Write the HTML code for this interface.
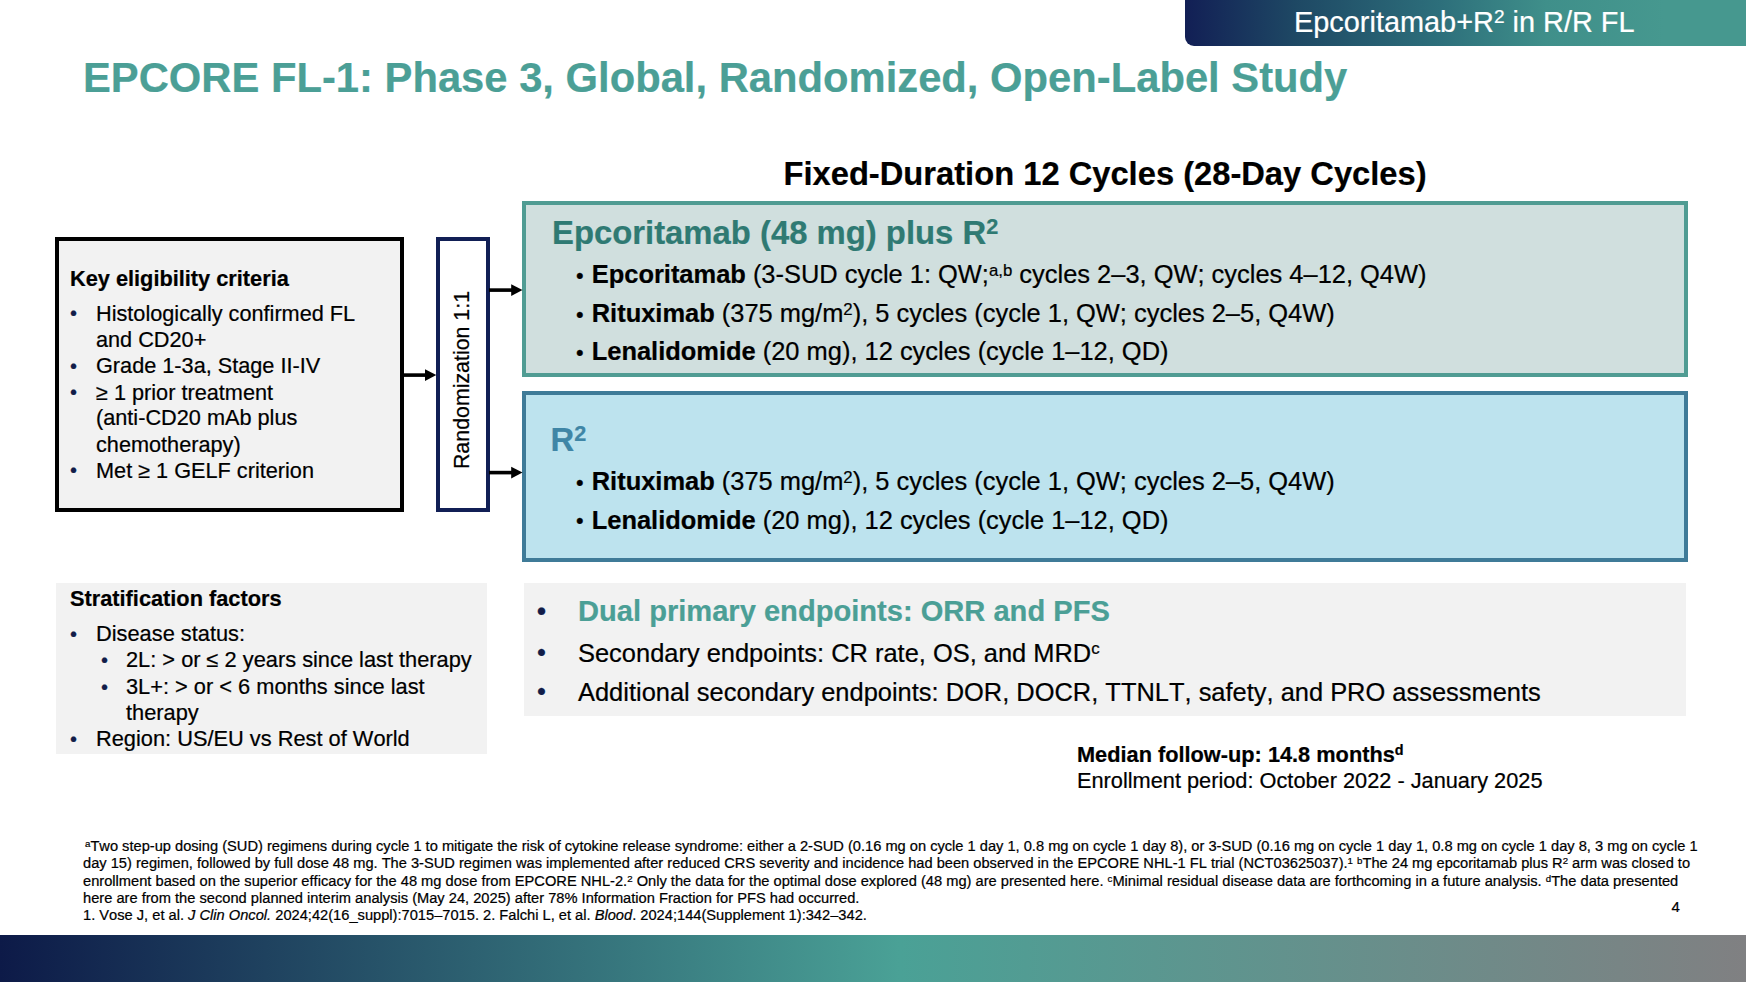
<!DOCTYPE html>
<html><head><meta charset="utf-8">
<style>
*{margin:0;padding:0;box-sizing:border-box;}
html,body{width:1746px;height:982px;overflow:hidden;background:#fff;}
body{font-family:"Liberation Sans",sans-serif;color:#000;position:relative;font-kerning:none;}
.abs{position:absolute;}
.t{position:absolute;white-space:nowrap;line-height:1;-webkit-text-stroke:0.22px currentColor;}
sup{font-size:66%;vertical-align:baseline;position:relative;top:-0.47em;line-height:0;}
.bl{font-size:85%;position:relative;top:-0.04em;margin-right:0.05em;}
#tab{left:1185px;top:0;width:570px;height:46.4px;border-radius:0 0 9px 9px;background:linear-gradient(90deg,#121f55 0%,#1e4864 19.3%,#2d6f7b 44.7%,#3f8f8a 63.3%,#46988f 84%,#46988f 100%);}
#elig{left:55px;top:237px;width:349px;height:275px;border:4px solid #000;background:#f2f2f2;}
#rand{left:436px;top:237px;width:54px;height:275px;border:4px solid #111f55;background:#fff;}
#arm1{left:522px;top:201px;width:1166px;height:176px;border:4px solid #509c93;background:#d0dfde;}
#arm2{left:522px;top:391px;width:1166px;height:171px;border:4px solid #3f7b98;background:#bde3ee;}
#strat{left:56px;top:583px;width:431px;height:171px;background:#f2f2f2;}
#endp{left:524px;top:583px;width:1162px;height:133px;background:#f2f2f2;}
#foot{left:0;top:935px;width:1746px;height:47px;background:linear-gradient(90deg,#0d1a48 0%,#4aa196 51.5%,#808082 100%);}
#randtxt{position:absolute;left:463px;top:380.4px;width:0;height:0;}
#randtxt span{position:absolute;white-space:nowrap;font-size:21.36px;line-height:1;-webkit-text-stroke:0.22px currentColor;transform:translate(-50%,-50%) rotate(-90deg);}
</style></head><body>
<div id="tab" class="abs"></div>
<div id="elig" class="abs"></div>
<div id="rand" class="abs"></div>
<div id="arm1" class="abs"></div>
<div id="arm2" class="abs"></div>
<div id="strat" class="abs"></div>
<div id="endp" class="abs"></div>
<div id="foot" class="abs"></div>
<div id="randtxt"><span>Randomization 1:1</span></div>
<svg class="abs" style="left:0;top:0" width="1746" height="982">
<g fill="#000" stroke="none">
<rect x="403" y="373.30" width="23.00" height="3.6"/><polygon points="425.00,369.20 436.30,375.10 425.00,381.00"/>
<rect x="489" y="288.30" width="23.20" height="3.6"/><polygon points="511.20,284.20 522.50,290.10 511.20,296.00"/>
<rect x="489" y="470.80" width="23.20" height="3.6"/><polygon points="511.20,466.70 522.50,472.60 511.20,478.50"/>
</g></svg>
<div class="t" id="t0" style="left:1294px;top:7.54px;font-size:28.9px;color:#fff;">Epcoritamab+R<sup>2</sup> in R/R FL</div>
<div class="t" id="t1" style="left:83px;top:57.06px;font-size:41.75px;color:#4b9f96;font-weight:bold;">EPCORE FL-1: Phase 3, Global, Randomized, Open-Label Study</div>
<div class="t" id="t2" style="left:783.5px;top:158.32px;font-size:32.7px;color:#000;font-weight:bold;">Fixed-Duration 12 Cycles (28-Day Cycles)</div>
<div class="t" id="t3" style="left:70px;top:268.19px;font-size:21.75px;color:#000;font-weight:bold;">Key eligibility criteria</div>
<div class="t" id="t4" style="left:70px;top:303.07px;font-size:20px;color:#121d49;">•</div>
<div class="t" id="t5" style="left:96px;top:302.63px;font-size:21.7px;color:#000;">Histologically confirmed FL</div>
<div class="t" id="t6" style="left:96px;top:328.83px;font-size:21.7px;color:#000;">and CD20+</div>
<div class="t" id="t7" style="left:70px;top:355.77px;font-size:20px;color:#121d49;">•</div>
<div class="t" id="t8" style="left:96px;top:355.33px;font-size:21.7px;color:#000;">Grade 1-3a, Stage II-IV</div>
<div class="t" id="t9" style="left:70px;top:382.07px;font-size:20px;color:#121d49;">•</div>
<div class="t" id="t10" style="left:96px;top:381.63px;font-size:21.7px;color:#000;">≥ 1 prior treatment</div>
<div class="t" id="t11" style="left:96px;top:407.43px;font-size:21.7px;color:#000;">(anti-CD20 mAb plus</div>
<div class="t" id="t12" style="left:96px;top:433.63px;font-size:21.7px;color:#000;">chemotherapy)</div>
<div class="t" id="t13" style="left:70px;top:460.27px;font-size:20px;color:#121d49;">•</div>
<div class="t" id="t14" style="left:96px;top:459.83px;font-size:21.7px;color:#000;">Met ≥ 1 GELF criterion</div>
<div class="t" id="t15" style="left:552px;top:217.19px;font-size:32.85px;color:#2f7a73;font-weight:bold;">Epcoritamab (48 mg) plus R<sup>2</sup></div>
<div class="t" id="t16" style="left:576px;top:262.46px;font-size:25.45px;color:#000;"><span class="bl">•</span> <b>Epcoritamab</b> (3-SUD cycle 1: QW;<sup>a,b</sup> cycles 2–3, QW; cycles 4–12, Q4W)</div>
<div class="t" id="t17" style="left:576px;top:301.46px;font-size:25.45px;color:#000;"><span class="bl">•</span> <b>Rituximab</b> (375 mg/m<sup>2</sup>), 5 cycles (cycle 1, QW; cycles 2–5, Q4W)</div>
<div class="t" id="t18" style="left:576px;top:339.46px;font-size:25.45px;color:#000;"><span class="bl">•</span> <b>Lenalidomide</b> (20 mg), 12 cycles (cycle 1–12, QD)</div>
<div class="t" id="t19" style="left:550.6px;top:424.19px;font-size:32.85px;color:#3f86a6;font-weight:bold;">R<sup>2</sup></div>
<div class="t" id="t20" style="left:576px;top:469.46px;font-size:25.45px;color:#000;"><span class="bl">•</span> <b>Rituximab</b> (375 mg/m<sup>2</sup>), 5 cycles (cycle 1, QW; cycles 2–5, Q4W)</div>
<div class="t" id="t21" style="left:576px;top:507.76px;font-size:25.45px;color:#000;"><span class="bl">•</span> <b>Lenalidomide</b> (20 mg), 12 cycles (cycle 1–12, QD)</div>
<div class="t" id="t22" style="left:70px;top:587.59px;font-size:21.75px;color:#000;font-weight:bold;">Stratification factors</div>
<div class="t" id="t23" style="left:70px;top:623.67px;font-size:20px;color:#121d49;">•</div>
<div class="t" id="t24" style="left:96px;top:623.15px;font-size:21.8px;color:#000;">Disease status:</div>
<div class="t" id="t25" style="left:101px;top:649.67px;font-size:20px;color:#121d49;">•</div>
<div class="t" id="t26" style="left:126px;top:649.15px;font-size:21.8px;color:#000;">2L: &gt; or ≤ 2 years since last therapy</div>
<div class="t" id="t27" style="left:101px;top:676.67px;font-size:20px;color:#121d49;">•</div>
<div class="t" id="t28" style="left:126px;top:676.15px;font-size:21.8px;color:#000;">3L+: &gt; or &lt; 6 months since last</div>
<div class="t" id="t29" style="left:126px;top:702.15px;font-size:21.8px;color:#000;">therapy</div>
<div class="t" id="t30" style="left:70px;top:728.67px;font-size:20px;color:#121d49;">•</div>
<div class="t" id="t31" style="left:96px;top:728.15px;font-size:21.8px;color:#000;">Region: US/EU vs Rest of World</div>
<div class="t" id="t32" style="left:536.8px;top:598.14px;font-size:27px;color:#121d49;">•</div>
<div class="t" id="t33" style="left:578px;top:596.57px;font-size:29.1px;color:#4b9f96;font-weight:bold;">Dual primary endpoints: ORR and PFS</div>
<div class="t" id="t34" style="left:537px;top:640.06px;font-size:25.45px;color:#121d49;">•</div>
<div class="t" id="t35" style="left:578px;top:640.66px;font-size:25.45px;color:#000;">Secondary endpoints: CR rate, OS, and MRD<sup>c</sup></div>
<div class="t" id="t36" style="left:537px;top:678.76px;font-size:25.45px;color:#121d49;">•</div>
<div class="t" id="t37" style="left:578px;top:679.96px;font-size:25.45px;color:#000;">Additional secondary endpoints: DOR, DOCR, TTNLT, safety, and PRO assessments</div>
<div class="t" id="t38" style="left:1077px;top:743.59px;font-size:21.75px;color:#000;font-weight:bold;">Median follow-up: 14.8 months<sup>d</sup></div>
<div class="t" id="t39" style="left:1077px;top:770.39px;font-size:21.75px;color:#000;">Enrollment period: October 2022 - January 2025</div>
<div class="t" id="t40" style="left:85px;top:839.30px;font-size:14.65px;color:#000;"><sup>a</sup>Two step-up dosing (SUD) regimens during cycle 1 to mitigate the risk of cytokine release syndrome: either a 2-SUD (0.16 mg on cycle 1 day 1, 0.8 mg on cycle 1 day 8), or 3-SUD (0.16 mg on cycle 1 day 1, 0.8 mg on cycle 1 day 8, 3 mg on cycle 1</div>
<div class="t" id="t41" style="left:83px;top:856.40px;font-size:14.65px;color:#000;">day 15) regimen, followed by full dose 48 mg. The 3-SUD regimen was implemented after reduced CRS severity and incidence had been observed in the EPCORE NHL-1 FL trial (NCT03625037).<sup>1</sup> <sup>b</sup>The 24 mg epcoritamab plus R<sup>2</sup> arm was closed to</div>
<div class="t" id="t42" style="left:83px;top:874.18px;font-size:14.67px;color:#000;">enrollment based on the superior efficacy for the 48 mg dose from EPCORE NHL-2.<sup>2</sup> Only the data for the optimal dose explored (48 mg) are presented here. <sup>c</sup>Minimal residual disease data are forthcoming in a future analysis. <sup>d</sup>The data presented</div>
<div class="t" id="t43" style="left:83px;top:890.58px;font-size:14.67px;color:#000;">here are from the second planned interim analysis (May 24, 2025) after 78% Information Fraction for PFS had occurred.</div>
<div class="t" id="t44" style="left:83px;top:907.58px;font-size:14.67px;color:#000;">1. Vose J, et al. <i>J Clin Oncol.</i> 2024;42(16_suppl):7015–7015. 2. Falchi L, et al. <i>Blood</i>. 2024;144(Supplement 1):342–342.</div>
<div class="t" id="t45" style="left:1671.5px;top:899.00px;font-size:15px;color:#000;">4</div>
</body></html>
